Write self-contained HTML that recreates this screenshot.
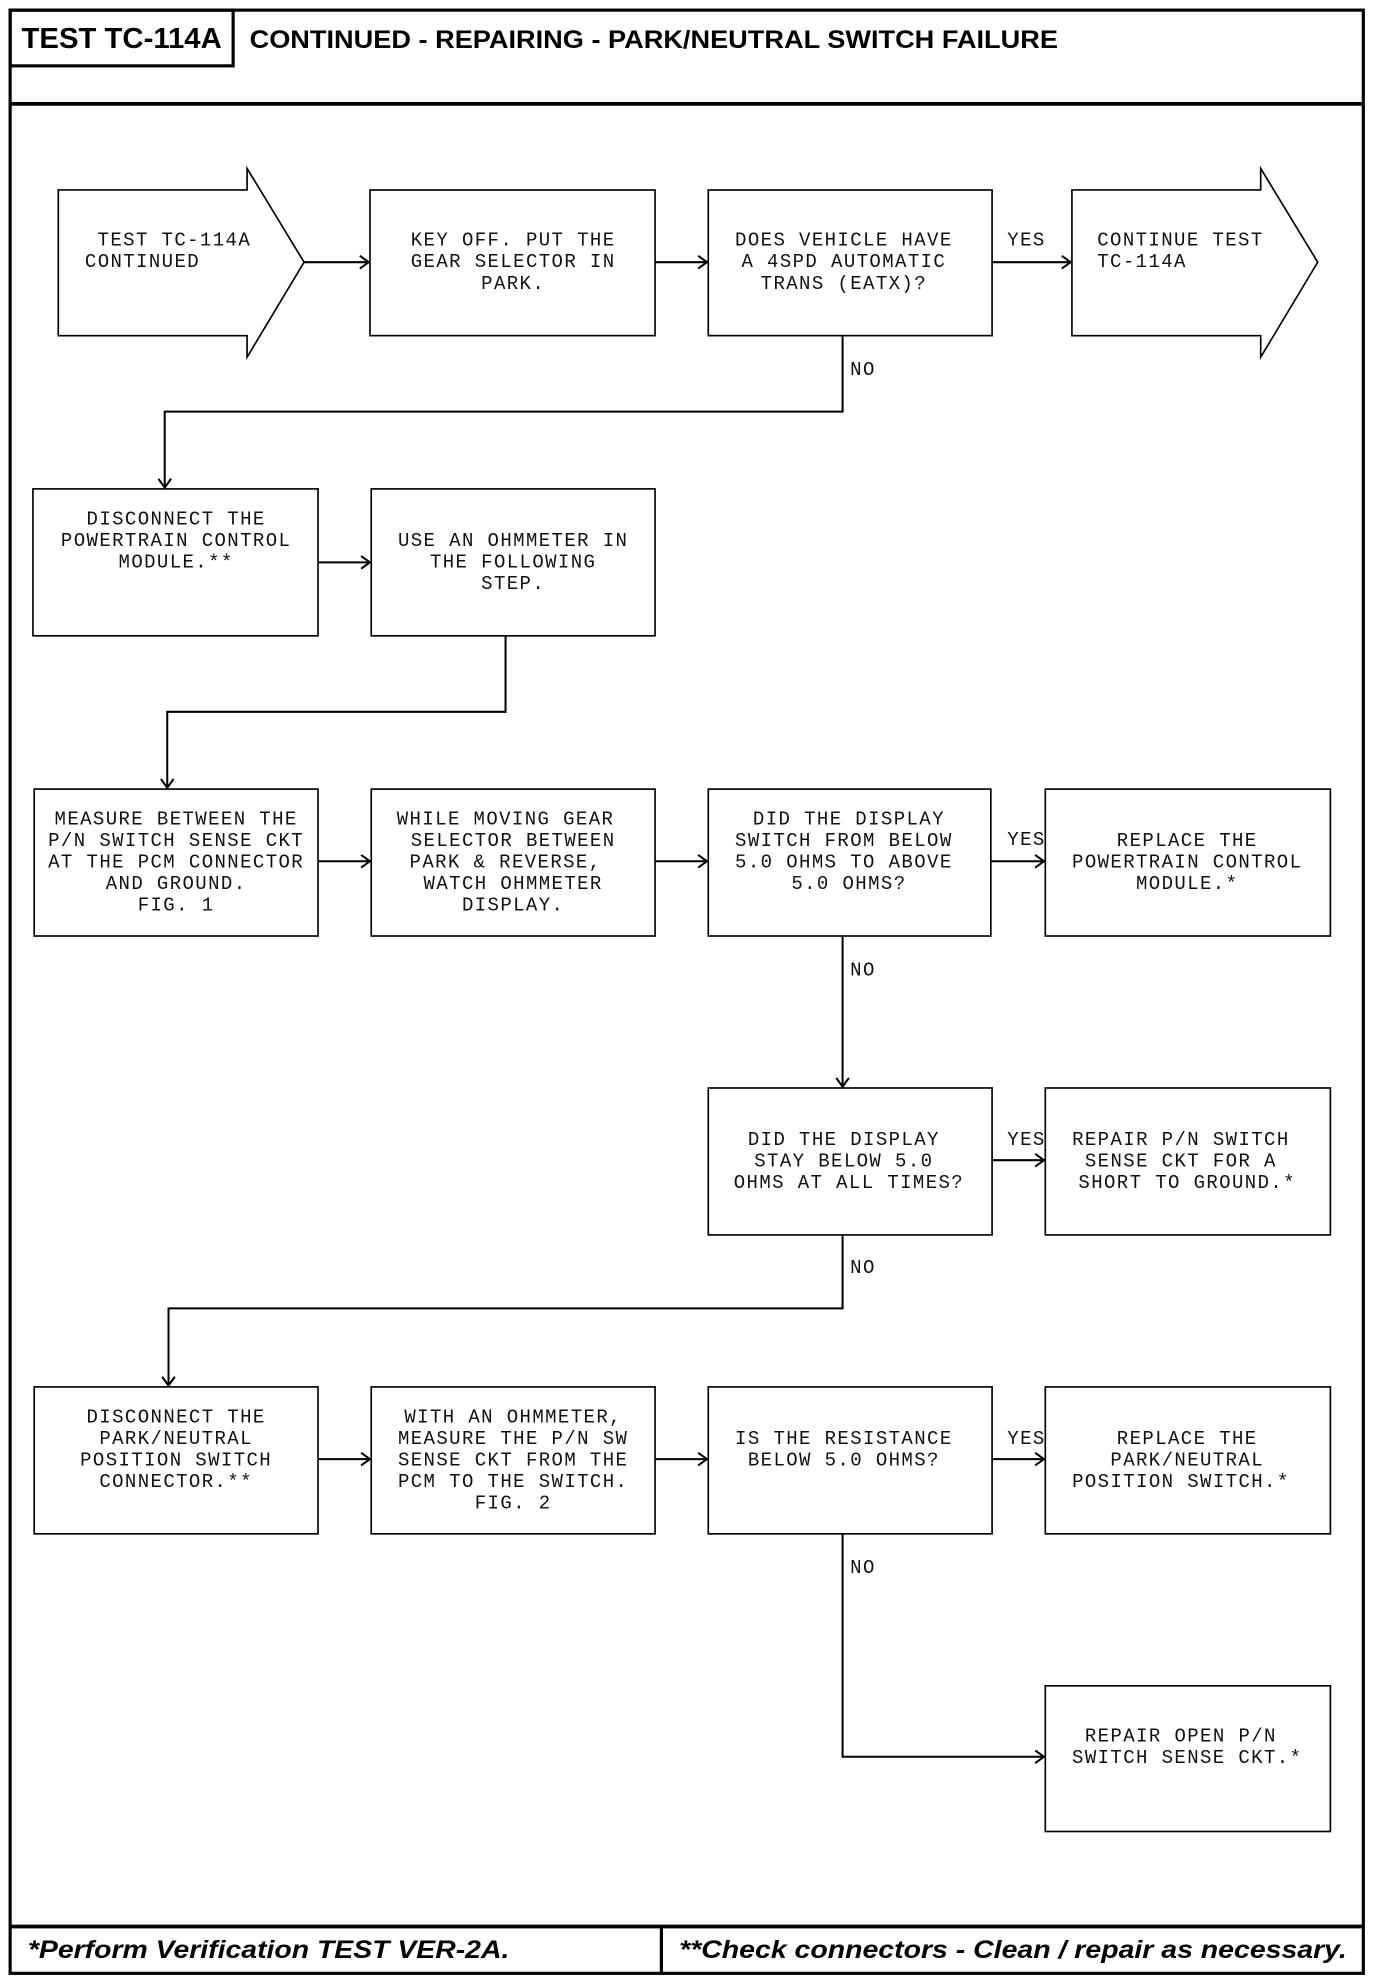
<!DOCTYPE html>
<html><head><meta charset="utf-8"><style>
html,body{margin:0;padding:0;background:#fff;}
svg{display:block;}
.t{font-family:"Liberation Mono",monospace;font-size:15px;letter-spacing:1.1px;fill:#111;}
.h{font-family:"Liberation Sans",sans-serif;font-weight:bold;fill:#000;}
</style></head><body>
<svg width="1376" height="1986" viewBox="0 0 1086 1568" preserveAspectRatio="none" xmlns="http://www.w3.org/2000/svg">
<g fill="none" stroke="#000">
<rect x="8" y="8" width="1068" height="1550" stroke-width="2.5"/>
<line x1="8" y1="82" x2="1076" y2="82" stroke-width="3"/>
<rect x="8" y="8" width="176" height="44" stroke-width="2.5"/>
<line x1="8" y1="1521" x2="1076" y2="1521" stroke-width="3"/>
<line x1="522" y1="1521" x2="522" y2="1558" stroke-width="2.5"/>
</g>
<text class="h" x="17" y="38" font-size="23" textLength="158" lengthAdjust="spacingAndGlyphs">TEST TC-114A</text>
<text class="h" x="197" y="38" font-size="20" textLength="638" lengthAdjust="spacingAndGlyphs">CONTINUED - REPAIRING - PARK/NEUTRAL SWITCH FAILURE</text>
<text class="h" x="22" y="1546" font-size="20" font-style="italic" textLength="380" lengthAdjust="spacingAndGlyphs">*Perform Verification TEST VER-2A.</text>
<text class="h" x="536" y="1546" font-size="20" font-style="italic" textLength="527" lengthAdjust="spacingAndGlyphs">**Check connectors - Clean / repair as necessary.</text>

<g fill="none" stroke="#000" stroke-width="1.3">
<polygon points="46,150 195,150 195,133 240,207 195,282 195,265 46,265"/>
<polygon points="846,150 995,150 995,133 1040,207 995,282 995,265 846,265"/>
<rect x="292" y="150" width="225" height="115"/>
<rect x="559" y="150" width="224" height="115"/>
<rect x="26" y="386" width="225" height="116"/>
<rect x="293" y="386" width="224" height="116"/>
<rect x="27" y="623" width="224" height="116"/>
<rect x="293" y="623" width="224" height="116"/>
<rect x="559" y="623" width="223" height="116"/>
<rect x="825" y="623" width="225" height="116"/>
<rect x="559" y="859" width="224" height="116"/>
<rect x="825" y="859" width="225" height="116"/>
<rect x="27" y="1095" width="224" height="116"/>
<rect x="293" y="1095" width="224" height="116"/>
<rect x="559" y="1095" width="224" height="116"/>
<rect x="825" y="1095" width="225" height="116"/>
<rect x="825" y="1331" width="225" height="115"/>
</g>
<g fill="none" stroke="#000" stroke-width="1.6">
<line x1="240" y1="207" x2="291" y2="207"/><polyline points="284,202 291,207 284,212"/>
<line x1="517" y1="207" x2="558" y2="207"/><polyline points="551,202 558,207 551,212"/>
<line x1="783" y1="207" x2="845" y2="207"/><polyline points="838,202 845,207 838,212"/>
<polyline points="665,265 665,325 130,325 130,385"/><polyline points="125,378 130,385 135,378"/>
<line x1="251" y1="444" x2="292" y2="444"/><polyline points="285,439 292,444 285,449"/>
<polyline points="399,502 399,562 132,562 132,622"/><polyline points="127,615 132,622 137,615"/>
<line x1="251" y1="680" x2="292" y2="680"/><polyline points="285,675 292,680 285,685"/>
<line x1="517" y1="680" x2="558" y2="680"/><polyline points="551,675 558,680 551,685"/>
<line x1="782" y1="680" x2="824" y2="680"/><polyline points="817,675 824,680 817,685"/>
<line x1="665" y1="739" x2="665" y2="858"/><polyline points="660,851 665,858 670,851"/>
<line x1="783" y1="916" x2="824" y2="916"/><polyline points="817,911 824,916 817,921"/>
<polyline points="665,975 665,1033 133,1033 133,1094"/><polyline points="128,1087 133,1094 138,1087"/>
<line x1="251" y1="1152" x2="292" y2="1152"/><polyline points="285,1147 292,1152 285,1157"/>
<line x1="517" y1="1152" x2="558" y2="1152"/><polyline points="551,1147 558,1152 551,1157"/>
<line x1="783" y1="1152" x2="824" y2="1152"/><polyline points="817,1147 824,1152 817,1157"/>
<polyline points="665,1211 665,1387 824,1387"/><polyline points="817,1382 824,1387 817,1392"/>
</g>
<g class="t">
<text x="77" y="194">TEST TC-114A</text><text x="67" y="211">CONTINUED</text>
<text x="866" y="194">CONTINUE TEST</text><text x="866" y="211">TC-114A</text>
<text x="795" y="194">YES</text>
<text x="671" y="296">NO</text>
<text x="795" y="667">YES</text>
<text x="671" y="770">NO</text>
<text x="795" y="904">YES</text>
<text x="671" y="1005">NO</text>
<text x="795" y="1140">YES</text>
<text x="671" y="1242">NO</text>
</g>
<g class="t" text-anchor="middle">
<text x="405" y="194">KEY OFF. PUT THE</text><text x="405" y="211">GEAR SELECTOR IN</text><text x="405" y="228">PARK.</text>
<text x="666" y="194">DOES VEHICLE HAVE</text><text x="666" y="211">A 4SPD AUTOMATIC</text><text x="666" y="228">TRANS (EATX)?</text>
<text x="139" y="414">DISCONNECT THE</text><text x="139" y="431">POWERTRAIN CONTROL</text><text x="139" y="448">MODULE.**</text>
<text x="405" y="431">USE AN OHMMETER IN</text><text x="405" y="448">THE FOLLOWING</text><text x="405" y="465">STEP.</text>
<text x="139" y="651">MEASURE BETWEEN THE</text><text x="139" y="668">P/N SWITCH SENSE CKT</text><text x="139" y="685">AT THE PCM CONNECTOR</text><text x="139" y="702">AND GROUND.</text><text x="139" y="719">FIG. 1</text>
<text x="399" y="651">WHILE MOVING GEAR</text><text x="405" y="668">SELECTOR BETWEEN</text><text x="399" y="685">PARK &amp; REVERSE,</text><text x="405" y="702">WATCH OHMMETER</text><text x="405" y="719">DISPLAY.</text>
<text x="670" y="651">DID THE DISPLAY</text><text x="666" y="668">SWITCH FROM BELOW</text><text x="666" y="685">5.0 OHMS TO ABOVE</text><text x="670" y="702">5.0 OHMS?</text>
<text x="937" y="668">REPLACE THE</text><text x="937" y="685">POWERTRAIN CONTROL</text><text x="937" y="702">MODULE.*</text>
<text x="666" y="904">DID THE DISPLAY</text><text x="666" y="921">STAY BELOW 5.0</text><text x="670" y="938">OHMS AT ALL TIMES?</text>
<text x="932" y="904">REPAIR P/N SWITCH</text><text x="932" y="921">SENSE CKT FOR A</text><text x="937" y="938">SHORT TO GROUND.*</text>
<text x="139" y="1123">DISCONNECT THE</text><text x="139" y="1140">PARK/NEUTRAL</text><text x="139" y="1157">POSITION SWITCH</text><text x="139" y="1174">CONNECTOR.**</text>
<text x="405" y="1123">WITH AN OHMMETER,</text><text x="405" y="1140">MEASURE THE P/N SW</text><text x="405" y="1157">SENSE CKT FROM THE</text><text x="405" y="1174">PCM TO THE SWITCH.</text><text x="405" y="1191">FIG. 2</text>
<text x="666" y="1140">IS THE RESISTANCE</text><text x="666" y="1157">BELOW 5.0 OHMS?</text>
<text x="937" y="1140">REPLACE THE</text><text x="937" y="1157">PARK/NEUTRAL</text><text x="932" y="1174">POSITION SWITCH.*</text>
<text x="932" y="1375">REPAIR OPEN P/N</text><text x="937" y="1392">SWITCH SENSE CKT.*</text>
</g>
</svg>
</body></html>
